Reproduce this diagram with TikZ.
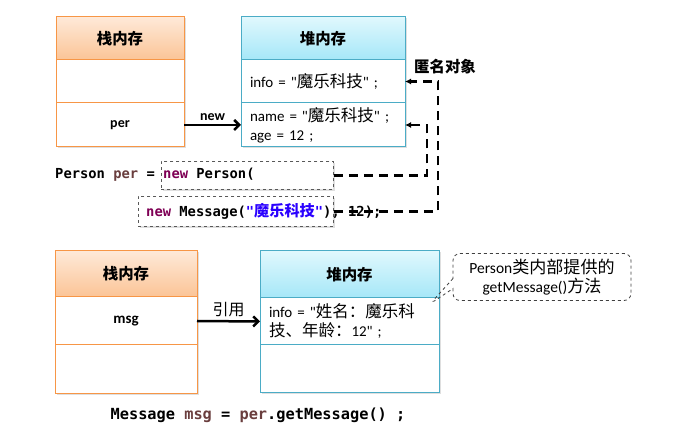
\documentclass[tikz,border=0pt]{standalone}
\usepackage{fontspec}
\setmainfont{Carlito}
\setmonofont{DejaVu Sans Mono}
\newfontfamily\cjk{Noto Sans CJK SC}[Scale=1.1]
\usetikzlibrary{positioning,shapes.callouts,shadows,arrows.meta}

\definecolor{stackline}{HTML}{F79646}
\definecolor{stacktop}{HTML}{FEE9D8}
\definecolor{stackbot}{HTML}{FBC496}
\definecolor{heapline}{HTML}{4BACC6}
\definecolor{heaptop}{HTML}{E0F8FD}
\definecolor{heapbot}{HTML}{A5E7F8}
\definecolor{kwcol}{HTML}{7F0055}
\definecolor{varcol}{HTML}{6A3E3E}
\definecolor{strcol}{HTML}{2A00FF}

\tikzset{
  boxshadow/.style={drop shadow={opacity=0.25,shadow xshift=1.5pt,shadow yshift=-1.5pt}},
  stackhead/.style={draw=stackline, line width=1pt, top color=stacktop, bottom color=stackbot,
    inner sep=0pt, outer sep=0pt, boxshadow, font=\fontsize{14}{18}\selectfont\cjk\bfseries},
  heaphead/.style={stackhead, draw=heapline, top color=heaptop, bottom color=heapbot},
  stackcell/.style={draw=stackline, line width=1pt, fill=white, inner sep=0pt, outer sep=0pt,
    boxshadow, font=\fontsize{15}{19}\selectfont},
  heapcell/.style={stackcell, draw=heapline, align=left},
  refarrow/.style={-{Straight Barb[length=5pt,width=10pt]}, line width=2.5pt},
  anonref/.style={-{Latex[length=6pt,width=6pt]}, line width=2.5pt, dash pattern=on 9pt off 6pt},
  codebox/.style={draw=black!65, dashed, line width=0.8pt, fill=white, boxshadow},
  code/.style={inner sep=0pt, font=\fontsize{13.8}{16}\selectfont\ttfamily\bfseries},
  note/.style={rectangle callout, draw=black!75, dashed, line width=0.8pt, rounded corners=7pt,
    align=center, callout pointer width=10pt, font=\fontsize{15.5}{19}\selectfont}
}

\begin{document}
\begin{tikzpicture}[x=1pt,y=-1pt]
\useasboundingbox (0,0) rectangle (673,446);

% stack and heap, with new
\node (sHead) [stackhead, minimum width=128pt, minimum height=43pt, anchor=north west] at (56,17) {栈内存};
\node (sEmpty) [stackcell, minimum width=128pt, minimum height=43pt, below=0pt of sHead] {};
\node (sPer) [stackcell, minimum width=128pt, minimum height=44pt, below=0pt of sEmpty, font=\fontsize{14}{16}\selectfont\bfseries] {per};

\node (hHead) [heaphead, minimum width=164pt, minimum height=43pt, anchor=north west] at (241,17) {堆内存};
\node (hInfo) [heapcell, minimum width=164pt, minimum height=43pt, text width=146pt, below=0pt of hHead] {info = \textquotedbl{\cjk 魔乐科技}\textquotedbl\ ;};
\node (hName) [heapcell, minimum width=164pt, minimum height=44pt, text width=146pt, below=0pt of hInfo] {name = \textquotedbl{\cjk 魔乐科技}\textquotedbl\ ;\\age = 12 ;};

\draw[refarrow] (sPer.east) -- node[above, font=\fontsize{14}{16}\selectfont\bfseries] {new} (hName.west);
\node (anonLabel) [font=\fontsize{14}{18}\selectfont\cjk\bfseries] at (445,67) {匿名对象};

% code line with anonymous objects
\node (pBox) [codebox, minimum width=172pt, minimum height=28pt, anchor=north west] at (161,161) {};
\node (mBox) [codebox, minimum width=195pt, minimum height=30pt, anchor=north west] at (138,196) {};
\node (codePer) [code, anchor=west] at (55,175) {Person \textcolor{varcol}{per} = \textcolor{kwcol}{new} Person(};
\node (codeMsg) [code, anchor=west] at (146,211) {\textcolor{kwcol}{new} Message(\textcolor{strcol}{"{\cjk 魔乐科技}"}), 12);};

\draw[anonref] (pBox.east) -- ++(93,0) |- (hName.east);
\draw[anonref] (mBox.east) -- ++(104,0) |- (hInfo.east);

% second part: getMessage()
\node (sHead2) [stackhead, minimum width=142pt, minimum height=46pt, anchor=north west] at (55,251) {栈内存};
\node (sMsg) [stackcell, minimum width=142pt, minimum height=48pt, below=0pt of sHead2, font=\fontsize{15}{16}\selectfont\bfseries] {msg};
\node (sFree) [stackcell, minimum width=142pt, minimum height=49pt, below=0pt of sMsg] {};

\node (hHead2) [heaphead, minimum width=179pt, minimum height=47pt, anchor=north west] at (260,251) {堆内存};
\node (hInfo2) [heapcell, minimum width=179pt, minimum height=47pt, text width=161pt, below=0pt of hHead2] {info = \textquotedbl{\cjk 姓名：魔乐科}\\{\cjk 技、年龄：}12\textquotedbl\ ;};
\node (hFree2) [heapcell, minimum width=179pt, minimum height=48pt, below=0pt of hInfo2] {};

\draw[refarrow] (sMsg.east) -- node[above, font=\fontsize{14.5}{18}\selectfont\cjk] {引用} (hInfo2.west);

\coordinate (tipEnd) at (430,304);
\node (getNote) [note, minimum width=178pt, minimum height=47pt, callout absolute pointer={(tipEnd)}] at (542,277) {Person{\cjk 类内部提供的}\\getMessage(){\cjk 方法}};

\node (codeGet) [code, font=\fontsize{15.3}{18}\selectfont\ttfamily\bfseries] at (258,415) {Message \textcolor{varcol}{msg} = \textcolor{varcol}{per}.getMessage() ;};
\end{tikzpicture}
\end{document}
